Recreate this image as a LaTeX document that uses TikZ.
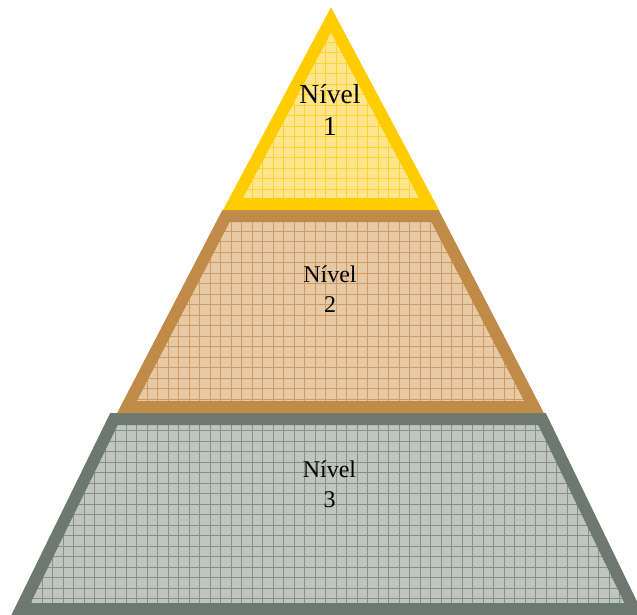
\documentclass[tikz,border=0pt]{standalone}
\usepackage{fontspec}
\setmainfont{Liberation Serif}
\definecolor{goldline}{HTML}{FFCC00}
\definecolor{goldfill}{HTML}{FFE68C}
\definecolor{goldgrid}{HTML}{FFD230}
\definecolor{brownline}{HTML}{C08A48}
\definecolor{brownfill}{HTML}{E8C9A6}
\definecolor{browngrid}{HTML}{CE9C62}
\definecolor{grayline}{HTML}{6B7970}
\definecolor{grayfill}{HTML}{BFC5BF}
\definecolor{graygrid}{HTML}{85908A}
\tikzset{
  border/.style={line width=12pt, line join=miter, miter limit=10},
  gridlines/.style={line width=0.8pt},
  lbl/.style={align=center, inner sep=0pt, text=black},
}
\newcommand{\mygrid}[1]{%
  \foreach \k in {0,...,61} {
    \draw[#1, gridlines] (\k*10.5,0) -- (\k*10.5,620);
    \draw[#1, gridlines] (0,\k*10.5) -- (640,\k*10.5);
  }%
}
\begin{document}
\begin{tikzpicture}[x=1pt,y=-1pt]
\useasboundingbox (0,0) rectangle (637,615);
\clip (0,0) rectangle (637,615);
% level 3
\begin{scope}
  \clip (114,419) -- (542,419) -- (634,609) -- (21,609) -- cycle;
  \fill[grayfill] (0,0) rectangle (637,615);
  \mygrid{graygrid}
\end{scope}
\draw[grayline, border] (114,419) -- (542,419) -- (634,609) -- (21,609) -- cycle;
% level 2
\begin{scope}
  \clip (226,216) -- (435,216) -- (534,407) -- (127,407) -- cycle;
  \fill[brownfill] (0,0) rectangle (637,615);
  \mygrid{browngrid}
\end{scope}
\draw[brownline, border] (226,216) -- (435,216) -- (534,407) -- (127,407) -- cycle;
% level 1
\begin{scope}
  \clip (331,20) -- (429,204) -- (233,204) -- cycle;
  \fill[goldfill] (0,0) rectangle (637,615);
  \mygrid{goldgrid}
\end{scope}
\draw[goldline, border] (331,20) -- (429,204) -- (233,204) -- cycle;
% labels
\node[lbl, font={\fontsize{27.5}{32}\selectfont}] (l1) at (330,109.6) {Nível\\1};
\node[lbl, font={\fontsize{24}{30}\selectfont}] (l2) at (330,288.8) {Nível\\2};
\node[lbl, font={\fontsize{24}{30}\selectfont}] (l3) at (329.5,483.8) {Nível\\3};
\end{tikzpicture}
\end{document}
